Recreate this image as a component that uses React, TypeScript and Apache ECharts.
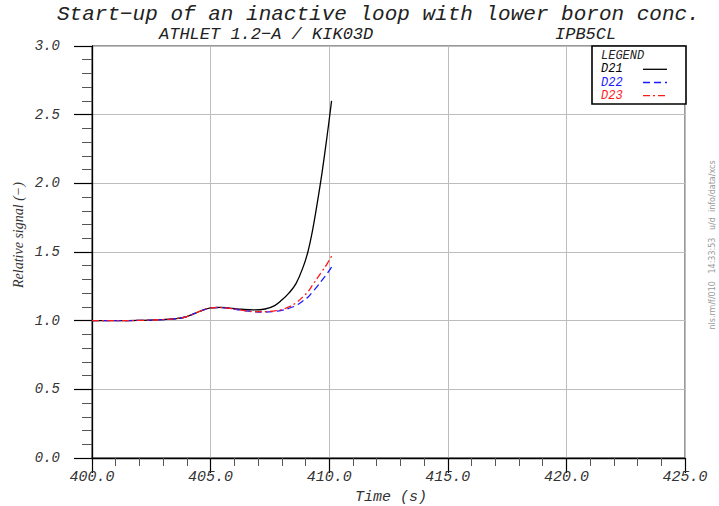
import React, { useEffect, useRef } from "react";
import * as echarts from "echarts";

const titleText = "Start\u2212up of an inactive loop with lower boron conc.";
const subtitleLeft = "ATHLET 1.2\u2212A / KIK03D";
const subtitleRight = "IPB5CL";
const xName = "Time (s)";
const yName = "Relative signal (\u2212)";
const sideNote = "nls.rm/f/010   14:33:53   u/d  info/data/xcs";

const seriesNames = ["D21", "D22", "D23"];
const seriesColors = ["#000000", "#1a1aff", "#ff1a1a"];

const times = [400, 401, 402, 403, 403.5, 404, 404.5, 405, 405.4, 405.8, 406.3, 406.8, 407.3, 407.7, 408.0, 408.3, 408.6, 408.9, 409.1, 409.3, 409.5, 409.7, 409.9, 410.1];
const d21 = [1.0, 1.0, 1.002, 1.008, 1.014, 1.03, 1.065, 1.093, 1.097, 1.092, 1.083, 1.078, 1.085, 1.11, 1.15, 1.2, 1.27, 1.39, 1.5, 1.66, 1.86, 2.08, 2.33, 2.6];
const d22 = [1.0, 1.0, 1.002, 1.008, 1.014, 1.03, 1.065, 1.093, 1.096, 1.09, 1.076, 1.066, 1.063, 1.067, 1.075, 1.09, 1.11, 1.145, 1.17, 1.21, 1.25, 1.295, 1.34, 1.39];
const d23 = [1.0, 1.0, 1.002, 1.008, 1.014, 1.03, 1.065, 1.093, 1.096, 1.09, 1.076, 1.066, 1.065, 1.072, 1.08, 1.1, 1.13, 1.175, 1.21, 1.26, 1.31, 1.36, 1.41, 1.47];

const xMin = 400, xMax = 425, xStep = 5;
const yMin = 0, yMax = 3, yStep = 0.5;

const MONO = "'Liberation Mono', 'DejaVu Sans Mono', monospace";
const SERIF = "'Liberation Serif', 'DejaVu Serif', serif";

export default function App() {
  const ref = useRef<HTMLDivElement>(null);
  useEffect(() => {
    const chart = echarts.init(ref.current!, null, { renderer: "svg" });
    const allData = [d21, d22, d23];
    const dashes: any[] = ["solid", [7, 4], [7, 3, 2, 3]];
    const rowY = (i: number) => 69.3 + i * 13.2;
    const option: any = {
      animation: false,
      backgroundColor: "#ffffff",
      grid: { left: 92, top: 46, right: 34, bottom: 48, show: true, borderColor: "#333", borderWidth: 1 },
      xAxis: {
        type: "value", min: xMin, max: xMax, interval: xStep,
        axisLine: { show: true, lineStyle: { color: "#000", width: 1.3 } },
        axisTick: { show: true, length: 15, lineStyle: { color: "#000", width: 1.2 } },
        minorTick: { show: true, splitNumber: 5, length: 8, lineStyle: { color: "#555" } },
        splitLine: { show: true, lineStyle: { color: "#bdbdbd", width: 1 } },
        axisLabel: {
          margin: 12, showMinLabel: true, showMaxLabel: true,
          formatter: (v: number) => v.toFixed(1),
          color: "#333", fontFamily: MONO, fontStyle: "italic", fontSize: 15,
        },
      },
      yAxis: {
        type: "value", min: yMin, max: yMax, interval: yStep,
        axisLine: { show: true, lineStyle: { color: "#000", width: 1.3 } },
        axisTick: { show: true, length: 18, lineStyle: { color: "#000", width: 1.2 } },
        minorTick: { show: true, splitNumber: 5, length: 10, lineStyle: { color: "#555" } },
        splitLine: { show: true, lineStyle: { color: "#bdbdbd", width: 1 } },
        axisLabel: {
          margin: 32, showMinLabel: true, showMaxLabel: true,
          formatter: (v: number) => v.toFixed(1),
          color: "#333", fontFamily: MONO, fontStyle: "italic", fontSize: 14,
        },
      },
      legend: { show: false },
      series: seriesNames.map((name, i) => ({
        name,
        type: "line",
        smooth: 0.4,
        showSymbol: false,
        symbol: "none",
        data: times.map((t, k) => [t, allData[i][k]]),
        lineStyle: { color: seriesColors[i], width: 1.3, type: dashes[i] },
        itemStyle: { color: seriesColors[i] },
        z: 3 + i,
      })),
      graphic: [
        { type: "text", x: 57, y: 14.5, style: { text: titleText, font: `italic 21px ${MONO}`, fill: "#222", align: "left", verticalAlign: "middle" } },
        { type: "text", x: 159, y: 34.5, style: { text: subtitleLeft, font: `italic 17px ${MONO}`, fill: "#222", align: "left", verticalAlign: "middle" } },
        { type: "text", x: 555, y: 34.5, style: { text: subtitleRight, font: `italic 17px ${MONO}`, fill: "#222", align: "left", verticalAlign: "middle" } },
        { type: "text", x: 391, y: 497, style: { text: xName, font: `italic 15px ${MONO}`, fill: "#333", align: "center", verticalAlign: "middle" } },
        { type: "text", x: 18, y: 235, rotation: Math.PI / 2, style: { text: yName, font: `italic 14px ${SERIF}`, fill: "#333", align: "center", verticalAlign: "middle" } },
        { type: "text", x: 712, y: 245, rotation: Math.PI / 2, style: { text: sideNote, font: `8px 'DejaVu Sans', sans-serif`, fill: "#999", align: "center", verticalAlign: "middle" } },
        { type: "rect", z: 100, shape: { x: 592, y: 46, width: 94, height: 58 }, style: { fill: "#fff", stroke: "#000", lineWidth: 1.6 } },
        { type: "text", z: 101, x: 601, y: 56, style: { text: "LEGEND", font: `italic 12px ${MONO}`, lineHeight: 12, fill: "#222", align: "left", verticalAlign: "middle" } },
        ...seriesNames.map((name, i) => ({ type: "text", z: 101, x: 601, y: rowY(i), style: { text: name, font: `italic 12px ${MONO}`, lineHeight: 12, fill: seriesColors[i], align: "left", verticalAlign: "middle" } })),
        ...seriesNames.map((name, i) => ({ type: "line", z: 101, shape: { x1: 643, y1: rowY(i), x2: 667, y2: rowY(i) }, style: { stroke: seriesColors[i], lineWidth: 1.3, lineDash: i === 0 ? null : dashes[i] } })),
      ],
    };
    chart.setOption(option);
    return () => chart.dispose();
  }, []);
  return <div ref={ref} style={{ position: "absolute", left: 0, top: 0, width: 719, height: 506 }} />;
}
